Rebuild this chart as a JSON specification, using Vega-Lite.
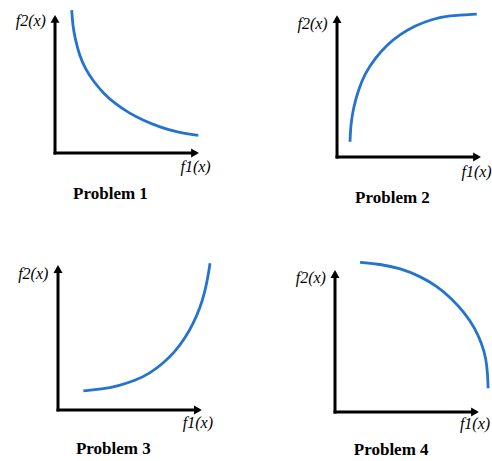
{
  "$schema": "https://vega.github.io/schema/vega-lite/v6.json",
  "padding": 0,
  "background": "white",
  "config": {"view": {"stroke": null}, "concat": {"spacing": 0}},
  "resolve": {"scale": {"x": "independent", "y": "independent"}},
  "datasets": {
    "rows": [
      {"panel": 1, "kind": "curve", "seq": 1, "f1": 1.16, "f2": 10.36},
      {"panel": 1, "kind": "curve", "seq": 2, "f1": 1.23, "f2": 9.28},
      {"panel": 1, "kind": "curve", "seq": 3, "f1": 1.39, "f2": 8.31},
      {"panel": 1, "kind": "curve", "seq": 4, "f1": 1.69, "f2": 7.10},
      {"panel": 1, "kind": "curve", "seq": 5, "f1": 2.08, "f2": 6.14},
      {"panel": 1, "kind": "curve", "seq": 6, "f1": 2.69, "f2": 5.16},
      {"panel": 1, "kind": "curve", "seq": 7, "f1": 3.37, "f2": 4.32},
      {"panel": 1, "kind": "curve", "seq": 8, "f1": 4.17, "f2": 3.57},
      {"panel": 1, "kind": "curve", "seq": 9, "f1": 5.08, "f2": 2.94},
      {"panel": 1, "kind": "curve", "seq": 10, "f1": 6.13, "f2": 2.36},
      {"panel": 1, "kind": "curve", "seq": 11, "f1": 7.29, "f2": 1.88},
      {"panel": 1, "kind": "curve", "seq": 12, "f1": 8.45, "f2": 1.51},
      {"panel": 1, "kind": "curve", "seq": 13, "f1": 9.95, "f2": 1.28},
      {"panel": 2, "kind": "curve", "seq": 1, "f1": 0.90, "f2": 1.08},
      {"panel": 2, "kind": "curve", "seq": 2, "f1": 0.95, "f2": 2.25},
      {"panel": 2, "kind": "curve", "seq": 3, "f1": 1.13, "f2": 3.43},
      {"panel": 2, "kind": "curve", "seq": 4, "f1": 1.48, "f2": 4.72},
      {"panel": 2, "kind": "curve", "seq": 5, "f1": 1.94, "f2": 5.89},
      {"panel": 2, "kind": "curve", "seq": 6, "f1": 2.64, "f2": 6.95},
      {"panel": 2, "kind": "curve", "seq": 7, "f1": 3.45, "f2": 7.89},
      {"panel": 2, "kind": "curve", "seq": 8, "f1": 4.38, "f2": 8.64},
      {"panel": 2, "kind": "curve", "seq": 9, "f1": 5.42, "f2": 9.25},
      {"panel": 2, "kind": "curve", "seq": 10, "f1": 6.58, "f2": 9.70},
      {"panel": 2, "kind": "curve", "seq": 11, "f1": 7.73, "f2": 9.96},
      {"panel": 2, "kind": "curve", "seq": 12, "f1": 9.70, "f2": 10.07},
      {"panel": 3, "kind": "curve", "seq": 1, "f1": 1.76, "f2": 1.31},
      {"panel": 3, "kind": "curve", "seq": 2, "f1": 3.03, "f2": 1.43},
      {"panel": 3, "kind": "curve", "seq": 3, "f1": 4.19, "f2": 1.66},
      {"panel": 3, "kind": "curve", "seq": 4, "f1": 5.35, "f2": 2.02},
      {"panel": 3, "kind": "curve", "seq": 5, "f1": 6.39, "f2": 2.53},
      {"panel": 3, "kind": "curve", "seq": 6, "f1": 7.31, "f2": 3.22},
      {"panel": 3, "kind": "curve", "seq": 7, "f1": 8.13, "f2": 4.02},
      {"panel": 3, "kind": "curve", "seq": 8, "f1": 8.82, "f2": 4.94},
      {"panel": 3, "kind": "curve", "seq": 9, "f1": 9.40, "f2": 5.98},
      {"panel": 3, "kind": "curve", "seq": 10, "f1": 9.86, "f2": 7.01},
      {"panel": 3, "kind": "curve", "seq": 11, "f1": 10.21, "f2": 8.16},
      {"panel": 3, "kind": "curve", "seq": 12, "f1": 10.44, "f2": 9.31},
      {"panel": 3, "kind": "curve", "seq": 13, "f1": 10.56, "f2": 10.12},
      {"panel": 4, "kind": "curve", "seq": 1, "f1": 1.74, "f2": 10.54},
      {"panel": 4, "kind": "curve", "seq": 2, "f1": 3.13, "f2": 10.42},
      {"panel": 4, "kind": "curve", "seq": 3, "f1": 4.53, "f2": 10.12},
      {"panel": 4, "kind": "curve", "seq": 4, "f1": 5.92, "f2": 9.56},
      {"panel": 4, "kind": "curve", "seq": 5, "f1": 7.09, "f2": 8.86},
      {"panel": 4, "kind": "curve", "seq": 6, "f1": 8.10, "f2": 8.00},
      {"panel": 4, "kind": "curve", "seq": 7, "f1": 9.03, "f2": 6.95},
      {"panel": 4, "kind": "curve", "seq": 8, "f1": 9.72, "f2": 5.89},
      {"panel": 4, "kind": "curve", "seq": 9, "f1": 10.19, "f2": 4.83},
      {"panel": 4, "kind": "curve", "seq": 10, "f1": 10.49, "f2": 3.78},
      {"panel": 4, "kind": "curve", "seq": 11, "f1": 10.60, "f2": 2.61},
      {"panel": 4, "kind": "curve", "seq": 12, "f1": 10.63, "f2": 1.67},

      {"panel": 1, "kind": "axis", "f1": 0, "f2": 0, "f1end": 9.7, "f2end": 0},
      {"panel": 1, "kind": "axis", "f1": 0, "f2": 0, "f1end": 0, "f2end": 9.7},
      {"panel": 2, "kind": "axis", "f1": 0, "f2": 0, "f1end": 9.7, "f2end": 0},
      {"panel": 2, "kind": "axis", "f1": 0, "f2": 0, "f1end": 0, "f2end": 9.7},
      {"panel": 3, "kind": "axis", "f1": 0, "f2": 0, "f1end": 9.7, "f2end": 0},
      {"panel": 3, "kind": "axis", "f1": 0, "f2": 0, "f1end": 0, "f2end": 9.7},
      {"panel": 4, "kind": "axis", "f1": 0, "f2": 0, "f1end": 9.7, "f2end": 0},
      {"panel": 4, "kind": "axis", "f1": 0, "f2": 0, "f1end": 0, "f2end": 9.7},

      {"panel": 1, "kind": "head-x", "f1": 9.72, "f2": 0},
      {"panel": 1, "kind": "head-y", "f1": 0, "f2": 9.72},
      {"panel": 2, "kind": "head-x", "f1": 9.72, "f2": 0},
      {"panel": 2, "kind": "head-y", "f1": 0, "f2": 9.72},
      {"panel": 3, "kind": "head-x", "f1": 9.72, "f2": 0},
      {"panel": 3, "kind": "head-y", "f1": 0, "f2": 9.72},
      {"panel": 4, "kind": "head-x", "f1": 9.72, "f2": 0},
      {"panel": 4, "kind": "head-y", "f1": 0, "f2": 9.72},

      {"panel": 1, "kind": "ylabel", "f1": -0.63, "f2": 9.59, "text": "f2(x)"},
      {"panel": 1, "kind": "xlabel", "f1": 9.76, "f2": -1.05, "text": "f1(x)"},
      {"panel": 1, "kind": "title", "f1": 3.85, "f2": -2.97, "text": "Problem 1"},
      {"panel": 2, "kind": "ylabel", "f1": -0.65, "f2": 9.37, "text": "f2(x)"},
      {"panel": 2, "kind": "xlabel", "f1": 9.69, "f2": -1.06, "text": "f1(x)"},
      {"panel": 2, "kind": "title", "f1": 3.85, "f2": -2.89, "text": "Problem 2"},
      {"panel": 3, "kind": "ylabel", "f1": -0.67, "f2": 9.38, "text": "f2(x)"},
      {"panel": 3, "kind": "xlabel", "f1": 9.72, "f2": -0.90, "text": "f1(x)"},
      {"panel": 3, "kind": "title", "f1": 3.84, "f2": -2.69, "text": "Problem 3"},
      {"panel": 4, "kind": "ylabel", "f1": -0.63, "f2": 9.47, "text": "f2(x)"},
      {"panel": 4, "kind": "xlabel", "f1": 9.72, "f2": -0.85, "text": "f1(x)"},
      {"panel": 4, "kind": "title", "f1": 3.90, "f2": -2.68, "text": "Problem 4"}
    ]
  },
  "vconcat": [
    {
      "hconcat": [
        {
          "width": 246, "height": 230,
          "data": {"name": "rows"},
          "transform": [{"filter": "datum.panel == 1"}],
          "encoding": {
            "x": {"field": "f1", "type": "quantitative", "scale": {"domain": [-3.82, 13.26], "nice": false, "zero": false}, "axis": null},
            "y": {"field": "f2", "type": "quantitative", "scale": {"domain": [-5.58, 11.09], "nice": false, "zero": false}, "axis": null}
          },
          "layer": [
            {"transform": [{"filter": "datum.kind == 'axis'"}], "mark": {"type": "rule", "strokeWidth": 3, "color": "black", "strokeCap": "square"}, "encoding": {"x2": {"field": "f1end"}, "y2": {"field": "f2end"}}},
            {"transform": [{"filter": "datum.kind == 'head-x'"}], "mark": {"type": "point", "shape": "triangle-right", "size": 81, "filled": true, "color": "black", "opacity": 1}},
            {"transform": [{"filter": "datum.kind == 'head-y'"}], "mark": {"type": "point", "shape": "triangle-up", "size": 81, "filled": true, "color": "black", "opacity": 1}},
            {"transform": [{"filter": "datum.kind == 'curve'"}], "mark": {"type": "line", "color": "#2373cf", "strokeWidth": 2.8, "interpolate": "basis"}, "encoding": {"order": {"field": "seq"}}},
            {"transform": [{"filter": "datum.kind == 'ylabel'"}], "mark": {"type": "text", "font": "Liberation Serif", "fontStyle": "italic", "fontSize": 16, "align": "right", "baseline": "middle", "color": "black"}, "encoding": {"text": {"field": "text"}}},
            {"transform": [{"filter": "datum.kind == 'xlabel'"}], "mark": {"type": "text", "font": "Liberation Serif", "fontStyle": "italic", "fontSize": 16, "align": "center", "baseline": "middle", "color": "black"}, "encoding": {"text": {"field": "text"}}},
            {"transform": [{"filter": "datum.kind == 'title'"}], "mark": {"type": "text", "font": "Liberation Serif", "fontWeight": "bold", "fontSize": 17, "align": "center", "baseline": "middle", "color": "black"}, "encoding": {"text": {"field": "text"}}}
          ]
        },
        {
          "width": 246, "height": 230,
          "data": {"name": "rows"},
          "transform": [{"filter": "datum.panel == 2"}],
          "encoding": {
            "x": {"field": "f1", "type": "quantitative", "scale": {"domain": [-6.32, 10.76], "nice": false, "zero": false}, "axis": null},
            "y": {"field": "f2", "type": "quantitative", "scale": {"domain": [-5.14, 11.06], "nice": false, "zero": false}, "axis": null}
          },
          "layer": [
            {"transform": [{"filter": "datum.kind == 'axis'"}], "mark": {"type": "rule", "strokeWidth": 3, "color": "black", "strokeCap": "square"}, "encoding": {"x2": {"field": "f1end"}, "y2": {"field": "f2end"}}},
            {"transform": [{"filter": "datum.kind == 'head-x'"}], "mark": {"type": "point", "shape": "triangle-right", "size": 81, "filled": true, "color": "black", "opacity": 1}},
            {"transform": [{"filter": "datum.kind == 'head-y'"}], "mark": {"type": "point", "shape": "triangle-up", "size": 81, "filled": true, "color": "black", "opacity": 1}},
            {"transform": [{"filter": "datum.kind == 'curve'"}], "mark": {"type": "line", "color": "#2373cf", "strokeWidth": 2.8, "interpolate": "basis"}, "encoding": {"order": {"field": "seq"}}},
            {"transform": [{"filter": "datum.kind == 'ylabel'"}], "mark": {"type": "text", "font": "Liberation Serif", "fontStyle": "italic", "fontSize": 16, "align": "right", "baseline": "middle", "color": "black"}, "encoding": {"text": {"field": "text"}}},
            {"transform": [{"filter": "datum.kind == 'xlabel'"}], "mark": {"type": "text", "font": "Liberation Serif", "fontStyle": "italic", "fontSize": 16, "align": "center", "baseline": "middle", "color": "black"}, "encoding": {"text": {"field": "text"}}},
            {"transform": [{"filter": "datum.kind == 'title'"}], "mark": {"type": "text", "font": "Liberation Serif", "fontWeight": "bold", "fontSize": 17, "align": "center", "baseline": "middle", "color": "black"}, "encoding": {"text": {"field": "text"}}}
          ]
        }
      ]
    },
    {
      "hconcat": [
        {
          "width": 246, "height": 231,
          "data": {"name": "rows"},
          "transform": [{"filter": "datum.panel == 3"}],
          "encoding": {
            "x": {"field": "f1", "type": "quantitative", "scale": {"domain": [-4.03, 13.06], "nice": false, "zero": false}, "axis": null},
            "y": {"field": "f2", "type": "quantitative", "scale": {"domain": [-3.52, 12.41], "nice": false, "zero": false}, "axis": null}
          },
          "layer": [
            {"transform": [{"filter": "datum.kind == 'axis'"}], "mark": {"type": "rule", "strokeWidth": 3, "color": "black", "strokeCap": "square"}, "encoding": {"x2": {"field": "f1end"}, "y2": {"field": "f2end"}}},
            {"transform": [{"filter": "datum.kind == 'head-x'"}], "mark": {"type": "point", "shape": "triangle-right", "size": 81, "filled": true, "color": "black", "opacity": 1}},
            {"transform": [{"filter": "datum.kind == 'head-y'"}], "mark": {"type": "point", "shape": "triangle-up", "size": 81, "filled": true, "color": "black", "opacity": 1}},
            {"transform": [{"filter": "datum.kind == 'curve'"}], "mark": {"type": "line", "color": "#2373cf", "strokeWidth": 2.8, "interpolate": "basis"}, "encoding": {"order": {"field": "seq"}}},
            {"transform": [{"filter": "datum.kind == 'ylabel'"}], "mark": {"type": "text", "font": "Liberation Serif", "fontStyle": "italic", "fontSize": 16, "align": "right", "baseline": "middle", "color": "black"}, "encoding": {"text": {"field": "text"}}},
            {"transform": [{"filter": "datum.kind == 'xlabel'"}], "mark": {"type": "text", "font": "Liberation Serif", "fontStyle": "italic", "fontSize": 16, "align": "center", "baseline": "middle", "color": "black"}, "encoding": {"text": {"field": "text"}}},
            {"transform": [{"filter": "datum.kind == 'title'"}], "mark": {"type": "text", "font": "Liberation Serif", "fontWeight": "bold", "fontSize": 17, "align": "center", "baseline": "middle", "color": "black"}, "encoding": {"text": {"field": "text"}}}
          ]
        },
        {
          "width": 246, "height": 231,
          "data": {"name": "rows"},
          "transform": [{"filter": "datum.panel == 4"}],
          "encoding": {
            "x": {"field": "f1", "type": "quantitative", "scale": {"domain": [-6.18, 10.90], "nice": false, "zero": false}, "axis": null},
            "y": {"field": "f2", "type": "quantitative", "scale": {"domain": [-3.45, 12.82], "nice": false, "zero": false}, "axis": null}
          },
          "layer": [
            {"transform": [{"filter": "datum.kind == 'axis'"}], "mark": {"type": "rule", "strokeWidth": 3, "color": "black", "strokeCap": "square"}, "encoding": {"x2": {"field": "f1end"}, "y2": {"field": "f2end"}}},
            {"transform": [{"filter": "datum.kind == 'head-x'"}], "mark": {"type": "point", "shape": "triangle-right", "size": 81, "filled": true, "color": "black", "opacity": 1}},
            {"transform": [{"filter": "datum.kind == 'head-y'"}], "mark": {"type": "point", "shape": "triangle-up", "size": 81, "filled": true, "color": "black", "opacity": 1}},
            {"transform": [{"filter": "datum.kind == 'curve'"}], "mark": {"type": "line", "color": "#2373cf", "strokeWidth": 2.8, "interpolate": "basis"}, "encoding": {"order": {"field": "seq"}}},
            {"transform": [{"filter": "datum.kind == 'ylabel'"}], "mark": {"type": "text", "font": "Liberation Serif", "fontStyle": "italic", "fontSize": 16, "align": "right", "baseline": "middle", "color": "black"}, "encoding": {"text": {"field": "text"}}},
            {"transform": [{"filter": "datum.kind == 'xlabel'"}], "mark": {"type": "text", "font": "Liberation Serif", "fontStyle": "italic", "fontSize": 16, "align": "center", "baseline": "middle", "color": "black"}, "encoding": {"text": {"field": "text"}}},
            {"transform": [{"filter": "datum.kind == 'title'"}], "mark": {"type": "text", "font": "Liberation Serif", "fontWeight": "bold", "fontSize": 17, "align": "center", "baseline": "middle", "color": "black"}, "encoding": {"text": {"field": "text"}}}
          ]
        }
      ]
    }
  ]
}
